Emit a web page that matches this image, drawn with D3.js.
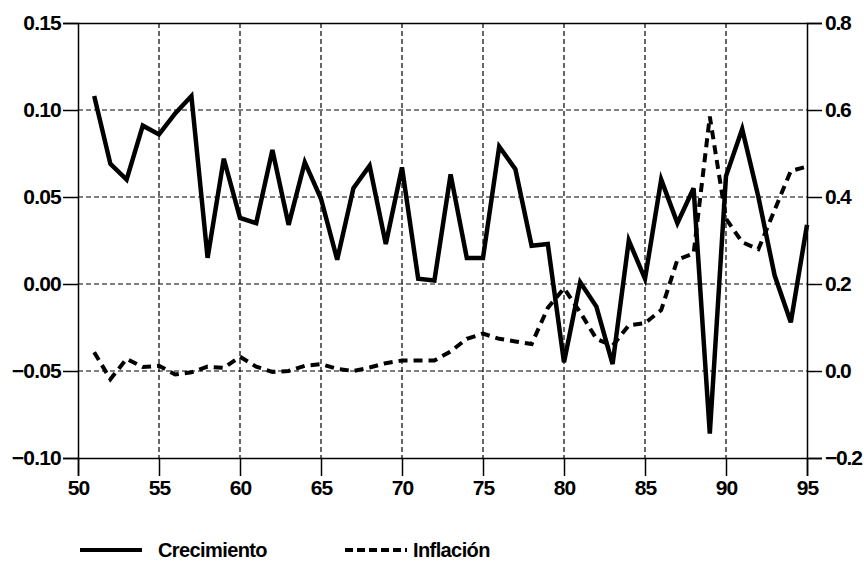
<!DOCTYPE html>
<html>
<head>
<meta charset="utf-8">
<script src="https://cdnjs.cloudflare.com/ajax/libs/d3/7.8.5/d3.min.js"></script>
<style>
  body { margin: 0; background: #fff; }
  text { font-family: "Liberation Sans", Arial, sans-serif; font-weight: bold; fill: #000; }
</style>
</head>
<body>
<div id="chart"></div>
<script>
var svgWidth = 864;
var svgHeight = 568;

var years = d3.range(51, 96);

var crecimiento = [0.108, 0.069, 0.060, 0.091, 0.086, 0.098, 0.108, 0.015, 0.072, 0.038,
    0.035, 0.077, 0.034, 0.070, 0.049, 0.014, 0.055, 0.068, 0.023, 0.067,
    0.003, 0.002, 0.063, 0.015, 0.015, 0.079, 0.066, 0.022, 0.023, -0.045,
    0.001, -0.013, -0.046, 0.025, 0.003, 0.060, 0.035, 0.055, -0.086, 0.062,
    0.089, 0.050, 0.005, -0.022, 0.034];

var inflacion = [0.043, -0.019, 0.028, 0.009, 0.012, -0.008, -0.003, 0.010, 0.007, 0.033,
    0.010, -0.002, 0.000, 0.012, 0.016, 0.005, 0.000, 0.008, 0.018, 0.024,
    0.024, 0.024, 0.045, 0.074, 0.086, 0.074, 0.068, 0.062, 0.145, 0.190,
    0.135, 0.074, 0.058, 0.105, 0.110, 0.140, 0.256, 0.270, 0.585, 0.350,
    0.296, 0.280, 0.370, 0.460, 0.470];

var xTicks = [50, 55, 60, 65, 70, 75, 80, 85, 90, 95];
var leftTicks = [-0.10, -0.05, 0.00, 0.05, 0.10, 0.15];
var rightTicks = [-0.2, 0.0, 0.2, 0.4, 0.6, 0.8];
var seriesNames = ["Crecimiento", "Inflación"];

var margin = {top: 23, right: 57, bottom: 110, left: 78};
var chartWidth = svgWidth - margin.left - margin.right;
var chartHeight = svgHeight - margin.top - margin.bottom;

var svg = d3.select("#chart")
    .append("svg")
    .attr("width", svgWidth)
    .attr("height", svgHeight);

var chartGroup = svg.append("g")
    .attr("transform", `translate(${margin.left},${margin.top})`);

var xScale = d3.scaleLinear().domain([50, 95]).range([0, chartWidth]);
var yLeft = d3.scaleLinear().domain([-0.10, 0.15]).range([chartHeight, 0]);
var yRight = d3.scaleLinear().domain([-0.2, 0.8]).range([chartHeight, 0]);

// grid
chartGroup.append("g")
    .selectAll("line.vgrid")
    .data(xTicks.slice(1, -1))
    .enter()
    .append("line")
    .attr("x1", d => xScale(d)).attr("x2", d => xScale(d))
    .attr("y1", 0).attr("y2", chartHeight)
    .attr("stroke", "#000").attr("stroke-width", 1.2)
    .attr("stroke-dasharray", "5,3");

chartGroup.append("g")
    .selectAll("line.hgrid")
    .data(leftTicks.slice(1, -1))
    .enter()
    .append("line")
    .attr("x1", 0).attr("x2", chartWidth)
    .attr("y1", d => yLeft(d)).attr("y2", d => yLeft(d))
    .attr("stroke", "#000").attr("stroke-width", 1.2)
    .attr("stroke-dasharray", "5,3");

// axes
var leftAxis = d3.axisLeft(yLeft).tickValues(leftTicks).tickFormat(d3.format(".2f")).tickSize(15).tickPadding(2);
var rightAxis = d3.axisRight(yRight).tickValues(rightTicks).tickFormat(d3.format(".1f")).tickSize(15).tickPadding(3);
var bottomAxis = d3.axisBottom(xScale).tickValues(xTicks).tickFormat(d3.format("d")).tickSize(18).tickPadding(4);
var topAxis = d3.axisTop(xScale).tickValues([]).tickSizeOuter(0);

chartGroup.append("g").call(leftAxis);
var rightG = chartGroup.append("g").attr("transform", `translate(${chartWidth},0)`).call(rightAxis);
chartGroup.append("g").attr("transform", `translate(0,${chartHeight})`).call(bottomAxis);
chartGroup.append("g").call(topAxis);

chartGroup.selectAll(".domain").attr("stroke", "#000").attr("stroke-width", 1.5);
chartGroup.selectAll(".tick line").attr("stroke", "#000").attr("stroke-width", 1.5);
chartGroup.selectAll(".tick text")
    .style("font-family", "'Liberation Sans', Arial, sans-serif")
    .style("font-weight", "bold")
    .style("font-size", "21px")
    .style("letter-spacing", "-0.8px")
    .attr("fill", "#000");
rightG.selectAll(".tick text").style("letter-spacing", "-1.2px");

// lines
var crecLine = d3.line()
    .x((d, i) => xScale(years[i]))
    .y(d => yLeft(d));

var inflLine = d3.line()
    .x((d, i) => xScale(years[i]))
    .y(d => yRight(d));

chartGroup.append("path")
    .datum(inflacion)
    .attr("d", inflLine)
    .attr("fill", "none")
    .attr("stroke", "#000")
    .attr("stroke-width", 4)
    .attr("stroke-dasharray", "9,6");

chartGroup.append("path")
    .datum(crecimiento)
    .attr("d", crecLine)
    .attr("fill", "none")
    .attr("stroke", "#000")
    .attr("stroke-width", 4.5)
    .attr("stroke-linejoin", "miter");

// legend
var legend = svg.append("g").attr("transform", "translate(0,550)");
var legendX = [80, 345];
var legendDash = [null, "8,4"];
var legendTextX = [158, 413];

seriesNames.forEach(function(name, i) {
    legend.append("line")
        .attr("x1", legendX[i]).attr("x2", legendX[i] + 62)
        .attr("y1", 0).attr("y2", 0)
        .attr("stroke", "#000")
        .attr("stroke-width", 4)
        .attr("stroke-dasharray", legendDash[i]);
    legend.append("text")
        .attr("x", legendTextX[i])
        .attr("y", 7)
        .style("font-size", "20px")
        .style("letter-spacing", "-0.6px")
        .text(name);
});
</script>
</body>
</html>
